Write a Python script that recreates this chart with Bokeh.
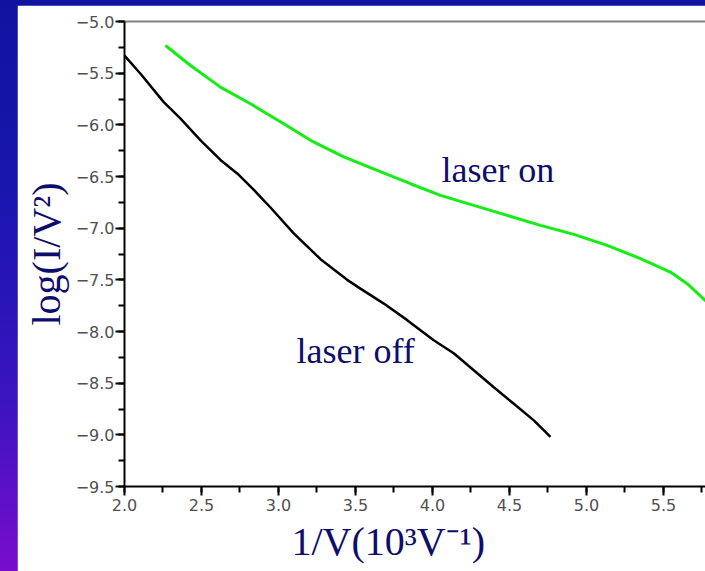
from bokeh.plotting import figure
from bokeh.models import (Range1d, LinearAxis, SingleIntervalTicker, FixedTicker,
                          CustomJSTickFormatter, Label, Title, GlobalInlineStyleSheet)
from bokeh.embed import file_html
from bokeh.resources import INLINE

# ---- data ----
off_x = [2.0, 2.104, 2.255, 2.364, 2.494, 2.623, 2.732, 2.84, 2.948, 3.099, 3.273, 3.446,
         3.532, 3.684, 3.836, 4.008, 4.138, 4.268, 4.398, 4.528, 4.658, 4.766]
off_y = [-5.33, -5.506, -5.78, -5.94, -6.15, -6.34, -6.47, -6.63, -6.80, -7.05, -7.30, -7.50,
         -7.585, -7.73, -7.89, -8.085, -8.21, -8.375, -8.54, -8.70, -8.86, -9.02]
on_x = [2.266, 2.429, 2.623, 2.818, 3.034, 3.208, 3.424, 3.641, 3.857, 4.052, 4.268, 4.485,
        4.701, 4.918, 5.134, 5.351, 5.545, 5.654, 5.80]
on_y = [-5.232, -5.426, -5.635, -5.796, -5.99, -6.15, -6.31, -6.44, -6.57, -6.683, -6.78,
        -6.876, -6.973, -7.06, -7.166, -7.295, -7.425, -7.537, -7.74]
x_label_text = "1/V(10\u00b3V\u207b\u00b9)"
y_label_text = "log(I/V\u00b2)"
series_labels = ["laser off", "laser on"]

NAVY = "#0d0d6b"
SERIF = "Liberation Serif"

p = figure(width=688, height=566, output_backend="svg", toolbar_location=None,
           x_range=Range1d(2.0, 5.773), y_range=Range1d(-9.5, -5.0),
           min_border_left=107, min_border_top=16, min_border_bottom=85, min_border_right=0)
p.background_fill_color = "white"
p.border_fill_color = "white"
p.outline_line_color = None
p.xgrid.visible = False
p.ygrid.visible = False
p.styles = {"margin-left": "17px", "margin-top": "5px"}
p.stylesheets = [GlobalInlineStyleSheet(css=(
    "html { background: linear-gradient(to bottom, #0e14a0 0%, #1a16ae 35%, #3a14c0 70%, #7a0ccd 100%);"
    " min-height: 100%; overflow: hidden; }"
    " body { background: transparent; overflow: hidden; }"))]

fmt = CustomJSTickFormatter(code="return tick.toFixed(1).replace('-', '\\u2212');")
for ax in (p.xaxis[0], p.yaxis[0]):
    ax.ticker = SingleIntervalTicker(interval=0.5, num_minor_ticks=2)
    ax.formatter = fmt
    ax.axis_line_color = "black"
    ax.axis_line_width = 2
    ax.major_tick_line_color = "black"
    ax.minor_tick_line_color = "black"
    ax.major_tick_line_width = 2
    ax.minor_tick_line_width = 2
    ax.major_tick_in = 0
    ax.major_tick_out = 9
    ax.minor_tick_in = 0
    ax.minor_tick_out = 6
    ax.major_label_text_font = "DejaVu Sans"
    ax.major_label_text_font_size = "16px"
    ax.major_label_text_color = "#505050"
p.xaxis[0].major_label_standoff = 3
p.yaxis[0].major_label_standoff = 1

top = LinearAxis(ticker=FixedTicker(ticks=[]), major_tick_out=0, major_tick_in=0,
                 minor_tick_out=0, minor_tick_in=0, major_label_standoff=0,
                 axis_line_color="#808080", axis_line_width=2)
p.add_layout(top, "above")

p.line(off_x, off_y, line_color="black", line_width=2.5)
p.line(on_x, on_y, line_color="#14ee14", line_width=3)

p.add_layout(Label(x=3.117, y=-8.186, text=series_labels[0], text_font=SERIF,
                   text_font_size="36px", text_color=NAVY, text_baseline="alphabetic"))
p.add_layout(Label(x=4.058, y=-6.436, text=series_labels[1], text_font=SERIF,
                   text_font_size="36px", text_color=NAVY, text_baseline="alphabetic"))

# axis titles
p.add_layout(Title(text=x_label_text, align="left", offset=167, standoff=6, text_font=SERIF,
                   text_font_size="40px", text_font_style="normal", text_color=NAVY), "below")
p.add_layout(Title(text=y_label_text, align="center", offset=-9, standoff=7, text_font=SERIF,
                   text_font_size="40px", text_font_style="normal", text_color=NAVY), "left")

open("out.html", "w").write(file_html(p, INLINE))
